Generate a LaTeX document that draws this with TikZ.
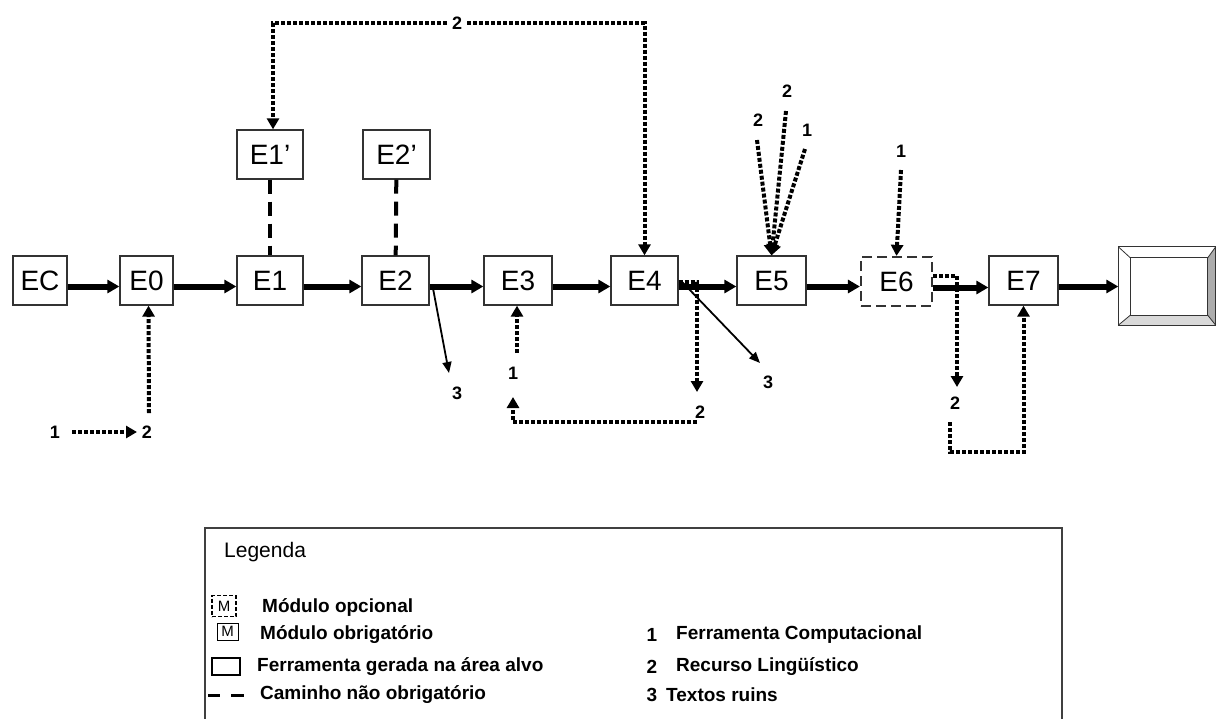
\documentclass[tikz,border=0pt]{standalone}
\usepackage{fontspec}
\setmainfont{Liberation Sans}
\usetikzlibrary{arrows.meta,calc}
\begin{document}
\begin{tikzpicture}[x=1pt,y=-1pt,
  mod/.style={draw=black!80,line width=1.3pt,minimum height=49pt,inner sep=0pt,
    font=\fontsize{28}{28}\selectfont},
  optmod/.style={mod,dash pattern=on 10pt off 5pt,line width=2.2pt},
  num/.style={inner sep=0pt,font=\bfseries\fontsize{18}{18}\selectfont},
  thickarr/.style={line width=6pt,-{Triangle[length=12pt,width=13pt]}},
  dotarr/.style={line width=4pt,dash pattern=on 4pt off 2pt,-{Triangle[length=11pt,width=12pt]}},
  thinarr/.style={line width=1.8pt,-{Triangle[length=11pt,width=9pt]}},
  optline/.style={line width=4pt,dash pattern=on 14pt off 8pt},
  legtext/.style={anchor=west,inner sep=0pt,font=\bfseries\fontsize{19}{19}\selectfont},
  legnum/.style={inner sep=0pt,font=\bfseries\fontsize{19}{19}\selectfont}]
\useasboundingbox[fill=white] (0,0) rectangle (1217,718);

% main row
\node[mod,minimum width=54pt] (EC) at (40,280.5) {EC};
\node[mod,minimum width=53pt] (E0) at (146.5,280.5) {E0};
\node[mod,minimum width=66pt] (E1) at (270,280.5) {E1};
\node[mod,minimum width=67pt] (E2) at (395.5,280.5) {E2};
\node[mod,minimum width=68pt] (E3) at (518,280.5) {E3};
\node[mod,minimum width=67pt] (E4) at (644.5,280.5) {E4};
\node[mod,minimum width=69pt] (E5) at (771.5,280.5) {E5};
\node[optmod,minimum width=71pt] (E6) at (896.5,281.5) {E6};
\node[mod,minimum width=69pt] (E7) at (1023.5,280.5) {E7};
\node[mod,minimum width=66pt] (E1p) at (270,154.5) {E1’};
\node[mod,minimum width=67pt] (E2p) at (396.5,154.5) {E2’};

% output box (tool generated)
\node[inner sep=0pt,minimum width=97pt,minimum height=78pt] (out) at (1167,286) {};
\coordinate (iNW) at ([xshift=12pt,yshift=-11pt]out.north west);
\coordinate (iNE) at ([xshift=-8pt,yshift=-11pt]out.north east);
\coordinate (iSE) at ([xshift=-8pt,yshift=10pt]out.south east);
\coordinate (iSW) at ([xshift=12pt,yshift=10pt]out.south west);
\fill[gray!65] (out.north east) -- (out.south east) -- (iSE) -- (iNE) -- cycle;
\fill[gray!30] (out.south west) -- (out.south east) -- (iSE) -- (iSW) -- cycle;
\draw[line width=1pt,black!80] (out.north west) rectangle (out.south east);
\draw[line width=1pt,black!80] (iNW) rectangle (iSE);
\draw[line width=0.8pt,black!80] (out.north west) -- (iNW) (out.north east) -- (iNE)
  (out.south east) -- (iSE) (out.south west) -- (iSW);

% thick main arrows
\foreach \a/\b in {EC/E0,E0/E1,E1/E2,E2/E3,E3/E4,E4/E5,E5/E6,E6/E7,E7/out}
  \draw[thickarr] ([yshift=-6pt]\a.east) -- ([yshift=-6pt]\a.east -| \b.west);

% optional paths
\draw[optline] (E1p) -- (E1);
\draw[optline] (E2p) -- (E2);

% labels
\node[num] (b1) at (55,432) {1};
\node[num] (b2) at (147,432) {2};
\node[num] (top2) at (457,23) {2};
\node[num] (c3) at (457,393) {3};
\node[num] (e3one) at (513,373) {1};
\node[num] (e4two) at (700,412) {2};
\node[num] (e4three) at (768,382) {3};
\node[num] (e5a) at (758,120) {2};
\node[num] (e5b) at (787,91) {2};
\node[num] (e5c) at (807,130) {1};
\node[num] (e6one) at (901,151) {1};
\node[num] (e6two) at (955,403) {2};

% connectors
\draw[dotarr] ([xshift=17pt]b1.center) -- ([xshift=-10pt]b2.center);
\draw[dotarr] ([xshift=2pt,yshift=19pt]b2.center) -- ([xshift=2pt]E0.south);
\draw[dotarr] ([xshift=-10pt]top2.center) -| ([xshift=3pt]E1p.north);
\draw[dotarr] ([xshift=10pt]top2.center) -| (E4.north);
\draw[thinarr] ([xshift=3pt,yshift=-6pt]E2.east) -- ([xshift=-8pt,yshift=20pt]c3.center);
\draw[dotarr] ([xshift=4pt,yshift=20pt]e3one.center) -- ([xshift=-1pt]E3.south);
\draw[dotarr] ([xshift=-3pt,yshift=-10pt]e4two.center) -| ([yshift=-24pt]e3one.center);
\draw[dotarr] ([yshift=-1.5pt]E4.east) -| ([xshift=-3pt,yshift=20pt]e4two.center);
\draw[thinarr] ([xshift=4pt,yshift=-2pt]E4.east) -- ([xshift=-8pt,yshift=19pt]e4three.center);
\draw[dotarr] ([xshift=-1pt,yshift=-20pt]e5a.center) -- (E5.north);
\draw[dotarr] ([xshift=-1pt,yshift=-20pt]e5b.center) -- (E5.north);
\draw[dotarr] ([xshift=-2pt,yshift=-19pt]e5c.center) -- (E5.north);
\draw[dotarr] ([yshift=-19pt]e6one.center) -- (E6.north);
\draw[dotarr] ([yshift=5.5pt]E6.east) -| ([xshift=2pt,yshift=16pt]e6two.center);
\draw[dotarr] ([xshift=-5pt,yshift=-19pt]e6two.center) -- ++(0,30) -| (E7.south);

% legend
\draw[line width=1.5pt,black!75] (205,722) -- (205,528) -- (1062,528) -- (1062,722);
\node[anchor=west,inner sep=0pt,font=\fontsize{21}{21}\selectfont] (leg) at (224,552) {Legenda};
\node[draw,line width=1.5pt,dash pattern=on 4pt off 2pt,minimum width=24pt,minimum height=21pt,
  inner sep=0pt,font=\fontsize{15}{15}\selectfont] (icopt) at (224,606) {M};
\node[draw,line width=1pt,minimum width=21pt,minimum height=17pt,inner sep=0pt,
  font=\fontsize{15}{15}\selectfont] (icobr) at (227.5,631.5) {M};
\draw[line width=2pt] (212,658) rectangle (240,675);
\draw[line width=3pt] (208,695) -- (220,695) (231,695) -- (244,695);
\node[legtext] (l1) at (262,607) {Módulo opcional};
\node[legtext] (l2) at (260,635) {Módulo obrigatório};
\node[legtext] (l3) at (257,667) {Ferramenta gerada na área alvo};
\node[legtext] (l4) at (260,695) {Caminho não obrigatório};
\node[legnum] (n1) at (652,635) {1};
\node[legtext] (r1) at (676,635) {Ferramenta Computacional};
\node[legnum] (n2) at (652,667) {2};
\node[legtext] (r2) at (676,667) {Recurso Lingüístico};
\node[legnum] (n3) at (652,695) {3};
\node[legtext] (r3) at (666,695) {Textos ruins};
\end{tikzpicture}
\end{document}
